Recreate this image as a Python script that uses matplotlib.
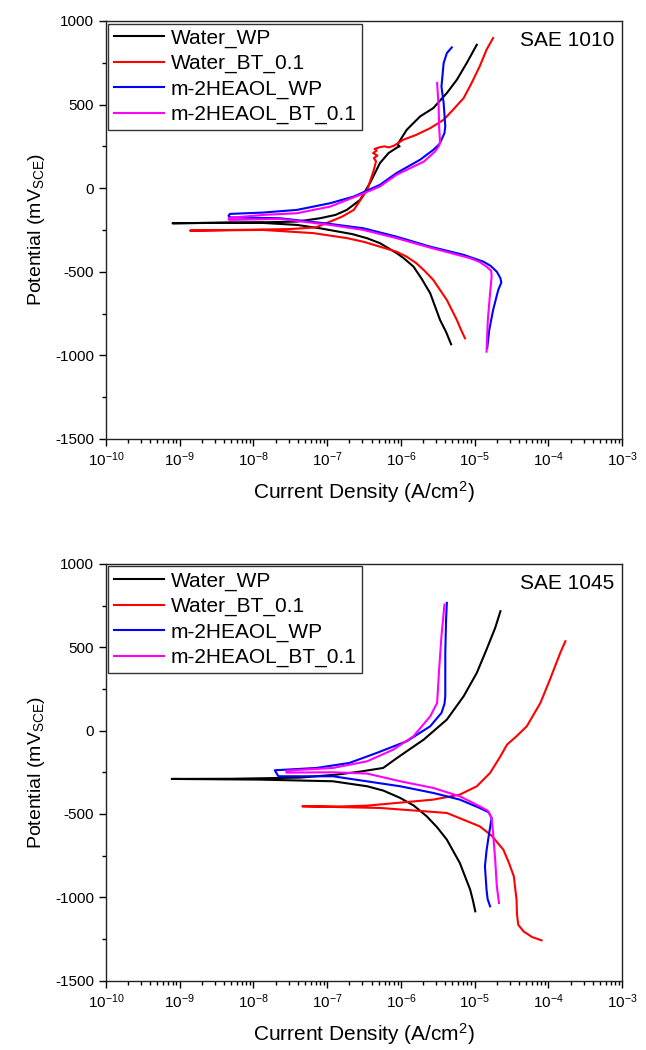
import matplotlib
matplotlib.use("Agg")
import matplotlib.pyplot as plt

plt.rcParams['font.family'] = ['Liberation Sans', 'DejaVu Sans']
plt.rcParams['axes.unicode_minus'] = False
plt.rcParams['mathtext.default'] = 'regular'

labels = ['Water_WP', 'Water_BT_0.1', 'm-2HEAOL_WP', 'm-2HEAOL_BT_0.1']
colors = ['#000000', '#ff0000', '#0000ff', '#ff00ff']

# SAE 1010 polarisation curves: current density (A/cm2) vs potential (mV SCE)
i_1010_water_wp = [4.8e-6, 4.1e-6, 3.4e-6, 2.5e-6, 1.9e-6, 1.48e-6, 1.1e-6, 8.8e-7, 5.2e-7,
                   3.5e-7, 2.2e-7, 8e-8, 3.9e-8, 1.35e-8, 4.8e-9, 8e-10, 5e-9, 1.5e-8,
                   3.9e-8, 8e-8, 1.3e-7, 1.85e-7, 2.8e-7, 3.8e-7, 5.2e-7, 6.8e-7, 9.0e-7,
                   9.6e-7, 9.0e-7, 1.2e-6, 1.82e-6, 2.75e-6, 4.2e-6, 5.75e-6, 7.8e-6, 1.07e-5]
e_1010_water_wp = [-934, -860, -789, -629, -540, -469, -420, -389, -329,
                   -300, -275, -240, -220, -208, -207, -210, -206, -204,
                   -200, -180, -160, -130, -70, 30, 150, 210, 245,
                   250, 262, 349, 429, 479, 569, 649, 748, 858]

i_1010_water_bt = [7.4e-6, 6.5e-6, 5.75e-6, 4.2e-6, 2.75e-6, 2.1e-6, 1.62e-6, 1.2e-6, 8.7e-7,
                   5.2e-7, 3.2e-7, 1.86e-7, 6.5e-8, 1.35e-8, 1.38e-9, 3e-8, 7e-8, 1.1e-7,
                   1.6e-7, 2.3e-7, 3.5e-7, 4.3e-7, 4.6e-7, 4.3e-7, 4.8e-7, 4.2e-7, 4.7e-7,
                   4.4e-7, 5.2e-7, 6.0e-7, 6.8e-7, 8.0e-7, 1.07e-6, 1.62e-6, 2.5e-6, 3.8e-6,
                   5.1e-6, 7.1e-6, 9.1e-6, 1.17e-5, 1.45e-5, 1.78e-5]
e_1010_water_bt = [-898, -845, -789, -669, -549, -495, -449, -410, -380,
                   -350, -322, -299, -269, -250, -254, -245, -235, -200,
                   -170, -130, -10, 110, 160, 180, 195, 210, 225,
                   235, 245, 250, 244, 253, 289, 319, 359, 409,
                   469, 539, 629, 728, 828, 898]

i_1010_heaol_wp = [1.48e-5, 1.58e-5, 1.78e-5, 2.09e-5, 2.3e-5, 2.24e-5, 2.0e-5, 1.65e-5, 1.32e-5,
                   7.1e-6, 2.5e-6, 8.7e-7, 3.1e-7, 1.1e-7, 2.3e-8, 4.8e-9, 4.6e-9, 4.8e-9,
                   1.35e-8, 3.9e-8, 1.1e-7, 2.3e-7, 5.2e-7, 8.7e-7, 1.82e-6, 2.75e-6, 3.3e-6,
                   3.55e-6, 3.9e-6, 4.0e-6, 3.8e-6, 3.55e-6, 3.8e-6, 4.2e-6, 4.9e-6]
e_1010_heaol_wp = [-958, -848, -729, -609, -565, -539, -500, -465, -440,
                   -399, -350, -290, -240, -214, -180, -175, -165, -154,
                   -146, -130, -90, -50, 20, 90, 170, 229, 262,
                   289, 330, 369, 509, 608, 748, 808, 842]

i_1010_heaol_bt = [1.45e-5, 1.51e-5, 1.62e-5, 1.7e-5, 1.68e-5, 1.45e-5, 1.15e-5, 8.7e-6, 2.5e-6,
                   8.7e-7, 3.1e-7, 1.1e-7, 2.3e-8, 4.7e-9, 4.6e-9, 4.7e-9, 1.35e-8, 3.9e-8,
                   1.1e-7, 2.8e-7, 5.2e-7, 8.7e-7, 2.05e-6, 2.9e-6, 3.2e-6, 3.4e-6, 3.3e-6,
                   3.25e-6, 3.1e-6]
e_1010_heaol_bt = [-978, -789, -629, -529, -495, -469, -440, -419, -356,
                   -299, -250, -220, -184, -190, -185, -178, -160, -150,
                   -110, -40, 10, 80, 159, 219, 245, 269, 369,
                   489, 629]

# SAE 1045 polarisation curves
i_1045_water_wp = [1.02e-5, 9.5e-6, 8.7e-6, 6.3e-6, 4.2e-6, 3.1e-6, 2.24e-6, 1.5e-6, 9.8e-7,
                   5.8e-7, 3.5e-7, 1.2e-7, 1.23e-8, 7.8e-10, 5e-9, 4.3e-8, 1.35e-7, 2.8e-7,
                   5.75e-7, 8.5e-7, 1.2e-6, 2.04e-6, 4.2e-6, 7.1e-6, 1.07e-5, 1.45e-5, 1.9e-5,
                   2.24e-5]
e_1045_water_wp = [-1084, -1020, -954, -794, -654, -580, -514, -450, -404,
                   -360, -334, -304, -294, -290, -289, -282, -264, -246,
                   -224, -170, -124, -54, 66, 206, 346, 486, 616,
                   716]

i_1045_water_bt = [8.1e-5, 6.0e-5, 4.6e-5, 3.9e-5, 3.75e-5, 3.7e-5, 3.4e-5, 2.9e-5, 2.45e-5,
                   1.7e-5, 1.17e-5, 4.2e-6, 5.2e-7, 4.6e-8, 1.5e-7, 3.5e-7, 2.75e-6, 6.3e-6,
                   1.07e-5, 1.62e-5, 2.24e-5, 2.75e-5, 3.7e-5, 5.1e-5, 7.8e-5, 1.05e-4, 1.45e-4,
                   1.7e-4]
e_1045_water_bt = [-1258, -1238, -1204, -1164, -1100, -1014, -874, -790, -714,
                   -630, -574, -494, -464, -454, -455, -450, -414, -384,
                   -334, -254, -154, -84, -34, 26, 166, 306, 466,
                   536]

i_1045_heaol_wp = [1.62e-5, 1.5e-5, 1.45e-5, 1.38e-5, 1.45e-5, 1.55e-5, 1.7e-5, 1.55e-5, 1.17e-5,
                   6.3e-6, 2.75e-6, 9.8e-7, 1.2e-7, 2.2e-8, 2.15e-8, 1.95e-8, 7.2e-8, 2.0e-7,
                   4.7e-7, 1.2e-6, 2.5e-6, 3.55e-6, 3.9e-6, 4.0e-6, 4.0e-6, 4.1e-6, 4.2e-6]
e_1045_heaol_wp = [-1054, -1010, -954, -814, -720, -634, -524, -490, -464,
                   -414, -374, -334, -274, -274, -270, -238, -224, -194,
                   -134, -64, 26, 106, 160, 206, 466, 666, 766]

i_1045_heaol_bt = [2.14e-5, 2.0e-5, 1.9e-5, 1.78e-5, 1.7e-5, 1.5e-5, 1.17e-5, 6.3e-6, 2.75e-6,
                   9.8e-7, 3.5e-7, 1.2e-7, 2.8e-8, 2.8e-8, 1.2e-7, 3.5e-7, 7.9e-7, 1.48e-6,
                   2.5e-6, 3.1e-6, 3.3e-6, 3.55e-6, 3.9e-6]
e_1045_heaol_bt = [-1034, -934, -774, -614, -524, -480, -454, -394, -344,
                   -304, -258, -250, -252, -240, -224, -184, -114, -34,
                   86, 166, 366, 566, 756]

panels = [
    ('SAE 1010', [(i_1010_water_wp, e_1010_water_wp), (i_1010_water_bt, e_1010_water_bt),
                  (i_1010_heaol_wp, e_1010_heaol_wp), (i_1010_heaol_bt, e_1010_heaol_bt)]),
    ('SAE 1045', [(i_1045_water_wp, e_1045_water_wp), (i_1045_water_bt, e_1045_water_bt),
                  (i_1045_heaol_wp, e_1045_heaol_wp), (i_1045_heaol_bt, e_1045_heaol_bt)]),
]

fig = plt.figure(figsize=(6.46, 10.5), dpi=100)
axes = [fig.add_axes([0.164, 0.582, 0.799, 0.398]),
        fig.add_axes([0.164, 0.066, 0.799, 0.397])]

for ax, (title, curves) in zip(axes, panels):
    for (cur, pot), lab, col in zip(curves, labels, colors):
        ax.plot(cur, pot, color=col, lw=1.5, label=lab)
    ax.set_xscale('log')
    ax.set_xlim(1e-10, 1e-3)
    ax.set_ylim(-1500, 1000)
    ax.set_yticks([-1500, -1000, -500, 0, 500, 1000])
    ax.set_yticks(range(-1250, 1000, 500), minor=True)
    ax.tick_params(which='major', direction='out', length=5, width=1, labelsize=11)
    ax.tick_params(which='minor', direction='out', length=3, width=1)
    for sp in ax.spines.values():
        sp.set_linewidth(1.0)
        sp.set_color('#222222')
    ax.set_xlabel('Current Density (A/cm$^{2}$)', fontsize=15, labelpad=7)
    ax.set_ylabel('Potential (mV$_{SCE}$)', fontsize=14, labelpad=6)
    ax.text(0.985, 0.975, title, transform=ax.transAxes, ha='right', va='top', fontsize=15)
    leg = ax.legend(loc='upper left', fontsize=15, frameon=True, fancybox=False,
                    edgecolor='#333333', framealpha=1, borderaxespad=0.12,
                    handlelength=2.4, handletextpad=0.35, labelspacing=0.3,
                    borderpad=0.25)
    leg.get_frame().set_linewidth(1.0)

fig.savefig('out.png', dpi=100)
